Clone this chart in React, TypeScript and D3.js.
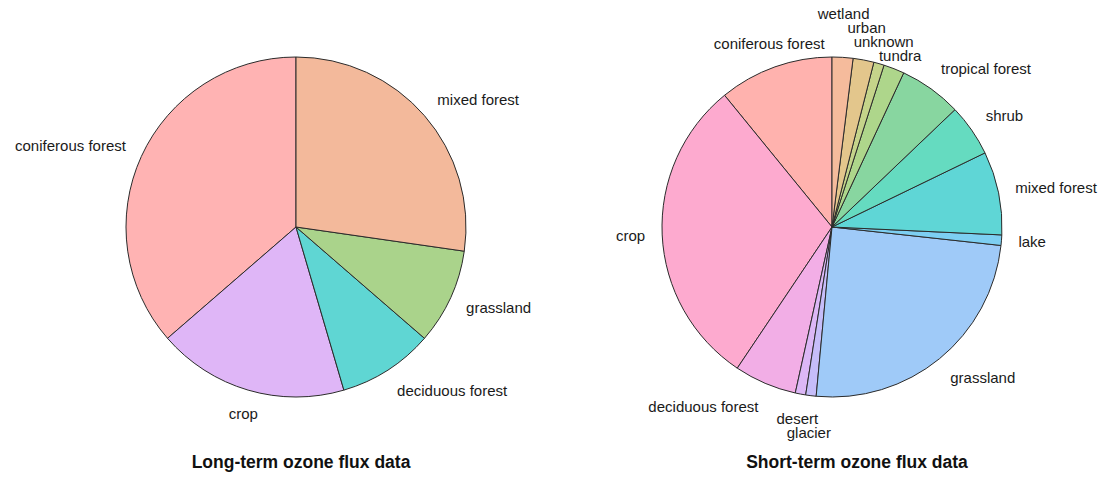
import React, { useEffect, useRef } from 'react';
import * as d3 from 'd3';

// long-term sites (counts per land cover)
const longCats = ['coniferous forest', 'crop', 'deciduous forest', 'grassland', 'mixed forest'];
const longCounts = [4, 2, 1, 1, 3];
const longColors = ['#FFB3B3', '#DFB6F7', '#5FD6D3', '#AAD38B', '#F3B99B'];

// short-term sites
const shortCats = [
  'coniferous forest', 'crop', 'deciduous forest', 'desert', 'glacier', 'grassland', 'lake',
  'mixed forest', 'shrub', 'tropical forest', 'tundra', 'unknown', 'urban', 'wetland',
];
const shortCounts = [11, 30, 6, 1, 1, 25, 1, 8, 5, 6, 2, 1, 2, 2];
const shortColors = [
  '#FFB2AE', '#FDAACF', '#F2AEE6', '#DCB7F6', '#C6BDF9', '#9FCAF8', '#7DCFF2',
  '#5FD6D6', '#65DBC0', '#88D6A0', '#AED68B', '#C5D48A', '#E3C68C', '#F5BB9C',
];

const titles = ['Long-term ozone flux data', 'Short-term ozone flux data'];

const W = 1111;
const H = 479;
const R = 170;
const FONT = 'Liberation Sans, Arial, Helvetica, sans-serif';

const App = () => {
  const ref = useRef<SVGSVGElement>(null);

  useEffect(() => {
    const svg = d3.select(ref.current);
    svg.selectAll('*').remove();

    const panels = [
      { cats: longCats, counts: longCounts, colors: longColors, cx: 296, cy: 227, tx: 301, title: titles[0] },
      { cats: shortCats, counts: shortCounts, colors: shortColors, cx: 832, cy: 227, tx: 857, title: titles[1] },
    ];

    panels.forEach(p => {
      const data = p.cats.map((c, i) => ({ cat: c, n: p.counts[i], color: p.colors[i] }));
      // counter-clockwise from 12 o'clock, like R's pie(init.angle = 90)
      const pie = d3
        .pie<any>()
        .sort(null)
        .value(d => d.n)
        .startAngle(0)
        .endAngle(-2 * Math.PI);
      const arcs = pie(data);
      const arc = d3.arc<any>().innerRadius(0).outerRadius(R);

      const g = svg.append('g').attr('transform', 'translate(' + p.cx + ',' + p.cy + ')');

      g.selectAll('path')
        .data(arcs)
        .enter()
        .append('path')
        .attr('d', arc)
        .attr('fill', d => d.data.color)
        .attr('stroke', '#2b2b2b')
        .attr('stroke-width', 1);

      // labels, pushed outwards when they collide
      const placed: { x0: number; x1: number; y: number; cl: number; t: any }[] = [];
      const boxH = 13.5;
      arcs.forEach((a, i) => {
        const mid = (a.startAngle + a.endAngle) / 2;
        const s = Math.sin(mid);
        const c = Math.cos(mid);
        const x = 1.1 * R * s;
        let y = -1.1 * R * c - c * 8;
        const anchor = Math.abs(s) < 0.37 ? 'middle' : s > 0 ? 'start' : 'end';
        const t = g
          .append('text')
          .attr('x', x)
          .attr('text-anchor', anchor)
          .attr('font-family', FONT)
          .attr('font-size', 15)
          .attr('fill', '#1a1a1a')
          .attr('dy', '0.35em')
          .text(a.data.cat);
        const w = (t.node() as SVGTextElement).getComputedTextLength();
        const x0 = anchor === 'middle' ? x - w / 2 : anchor === 'start' ? x : x - w;
        const x1 = x0 + w;
        const dir = c > 0 ? -1 : 1;
        const hit = () => placed.find(b => b.x0 < x1 && x0 < b.x1 && Math.abs(b.y - y) < boxH);
        let cl = i;
        let b = hit();
        let guard = 0;
        while (b && guard < 200) {
          cl = b.cl; // last label we got pushed past
          y += dir;
          guard++;
          b = hit();
        }
        placed.push({ x0, x1, y, cl, t });
      });

      // keep stacked clusters inside the top edge
      const minY = 14 - p.cy;
      d3.group(placed, d => d.cl).forEach(members => {
        const top = d3.min(members, d => d.y) as number;
        if (top < minY) members.forEach(d => (d.y += minY - top));
      });
      placed.forEach(d => d.t.attr('y', d.y));

      svg
        .append('text')
        .attr('x', p.tx)
        .attr('y', 462)
        .attr('dy', '0.35em')
        .attr('text-anchor', 'middle')
        .attr('font-family', FONT)
        .attr('font-weight', 'bold')
        .attr('font-size', 17.5)
        .attr('fill', '#111')
        .text(p.title);
    });
  }, []);

  return (
    <svg
      ref={ref}
      width={W}
      height={H}
      style={{ position: 'absolute', left: 0, top: 0, background: '#fff' }}
    />
  );
};

export default App;
